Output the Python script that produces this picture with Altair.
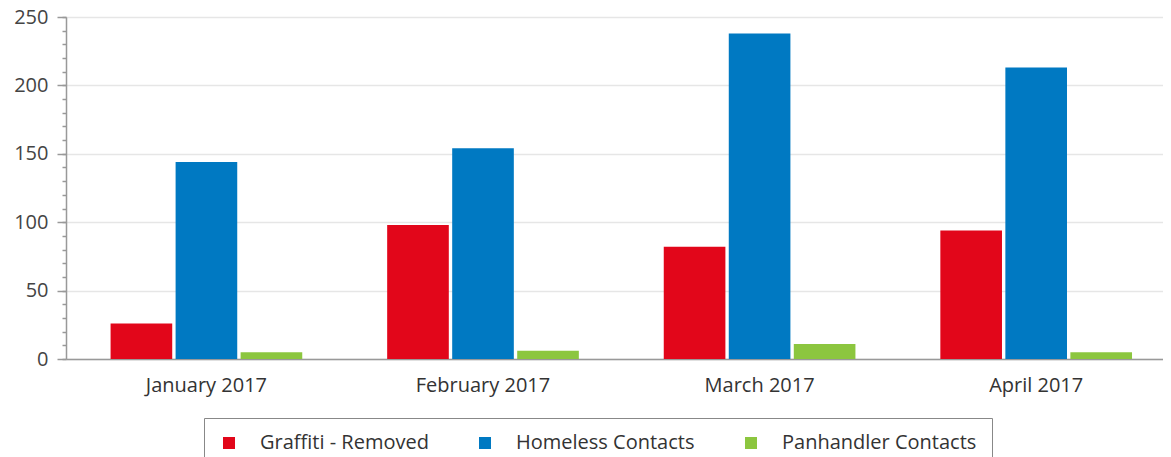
import altair as alt
import pandas as pd

months = ["January 2017", "February 2017", "March 2017", "April 2017"]
series = ["Graffiti - Removed", "Homeless Contacts", "Panhandler Contacts"]
graffiti = [26, 98, 82, 94]
homeless = [144, 154, 238, 213]
panhandler = [5, 6, 11, 5]
colors = ["#E2061A", "#0079C2", "#8CC63F"]

rows = []
for i, m in enumerate(months):
    for s, vals in zip(series, [graffiti, homeless, panhandler]):
        rows.append({"month": m, "series": s, "value": vals[i]})
df = pd.DataFrame(rows)

FONT = "Open Sans"

base = alt.Chart(df)

bars = base.mark_bar().encode(
    x=alt.X("month:N", sort=months, title=None,
            scale=alt.Scale(paddingInner=0.307, paddingOuter=0.1366, align=0.59),
            axis=alt.Axis(labelAngle=0, ticks=False, domainColor="#999999",
                          domainWidth=1.5, labelFont=FONT, labelFontSize=20,
                          labelColor="#333333", labelPadding=16)),
    xOffset=alt.XOffset("series:N", sort=series,
                        scale=alt.Scale(paddingInner=0.052)),
    y=alt.Y("value:Q", title=None,
            scale=alt.Scale(domain=[0, 250], nice=False),
            axis=alt.Axis(values=[0, 50, 100, 150, 200, 250], orient="left",
                          grid=True, gridColor="#E6E6E6", gridWidth=1.5,
                          domainColor="#999999", domainWidth=1.5,
                          tickColor="#999999", tickSize=9, tickWidth=1.5,
                          labelFont=FONT, labelFontSize=20,
                          labelColor="#444444", labelPadding=9)),
    color=alt.Color("series:N", sort=series,
                    scale=alt.Scale(domain=series, range=colors),
                    legend=alt.Legend(title=None, orient="none",
                                      legendX=138, legendY=401,
                                      direction="horizontal",
                                      symbolType="square", symbolSize=144,
                                      symbolStrokeWidth=0,
                                      labelFont=FONT, labelFontSize=20,
                                      labelLimit=400,
                                      labelColor="#333333", labelOffset=21,
                                      columnPadding=46, padding=15,
                                      strokeColor="#888888")),
)

minor = base.mark_bar(opacity=0).encode(
    y=alt.Y("value:Q", title=None,
            scale=alt.Scale(domain=[0, 250], nice=False),
            axis=alt.Axis(values=list(range(0, 251, 10)), orient="left",
                          labels=False, grid=False, domain=False,
                          tickColor="#999999", tickSize=4, tickWidth=1.5)),
)

chart = alt.layer(minor, bars).resolve_axis(y="independent").properties(
    width=1097, height=342,
    autosize=alt.AutoSizeParams(type="none"),
    padding={"left": 58, "top": 9, "right": 0, "bottom": 98},
    background="white",
).configure_view(stroke=None)

chart.save("out.html", embed_options={"renderer": "svg", "actions": False})
